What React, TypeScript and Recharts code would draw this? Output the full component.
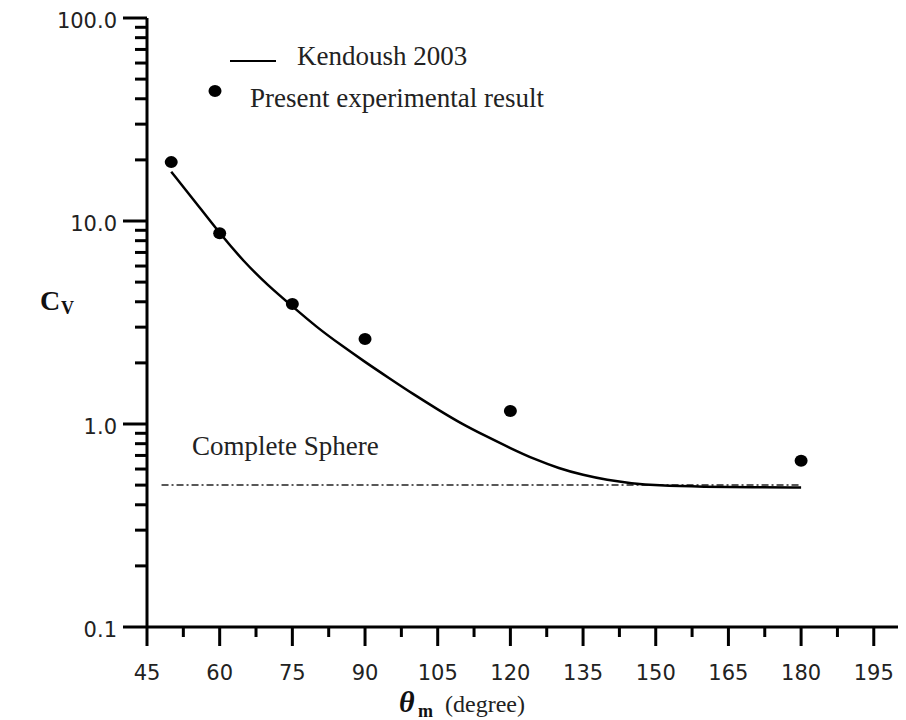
import React from 'react';
import { ComposedChart, Line, Scatter, XAxis, YAxis } from 'recharts';

const kendoushX = [50, 55, 60, 65, 70, 75, 80, 85, 90, 95, 100, 105, 110, 115, 120, 125, 130, 135, 140, 145, 150, 160, 170, 180];
const kendoushY = [17.5, 12.4, 8.7, 6.3, 4.8, 3.8, 3.0, 2.45, 2.02, 1.68, 1.4, 1.18, 1.0, 0.87, 0.76, 0.67, 0.605, 0.56, 0.53, 0.51, 0.498, 0.49, 0.488, 0.487];
const expX = [50, 60, 75, 90, 120, 180];
const expY = [19.5, 8.7, 3.9, 2.62, 1.16, 0.66];
const sphereX = [48, 180];
const sphereY = [0.5, 0.5];
const xTicks = [45, 52.5, 60, 67.5, 75, 82.5, 90, 97.5, 105, 112.5, 120, 127.5, 135, 142.5, 150, 157.5, 165, 172.5, 180, 187.5, 195];
const yTicks = [0.1, 0.2, 0.3, 0.4, 0.5, 0.6, 0.7, 0.8, 0.9, 1, 2, 3, 4, 5, 6, 7, 8, 9, 10, 20, 30, 40, 50, 60, 70, 80, 90, 100];
const yMajorLabels: Record<string, string> = { '0.1': '0.1', '1': '1.0', '10': '10.0', '100': '100.0' };

const kendoush = kendoushX.map((x, i) => ({ x, y: kendoushY[i] }));
const experiment = expX.map((x, i) => ({ x, y: expY[i] }));
const sphere = sphereX.map((x, i) => ({ x, y: sphereY[i] }));

const tickFont = '"DejaVu Sans", sans-serif';
const serif = '"Liberation Serif", "Times New Roman", serif';

const YTick = (props: any) => {
  const { x, y, payload } = props;
  const v = payload.value;
  const label = yMajorLabels[String(v)];
  const major = label !== undefined;
  return (
    <g>
      <line x1={x - (major ? 24 : 12)} x2={x} y1={y} y2={y} stroke="#000" strokeWidth={3} />
      {major && (
        <text x={x - 30} y={y + 10} textAnchor="end" fontFamily={tickFont} fontSize={21} fill="#222">
          {label}
        </text>
      )}
    </g>
  );
};

const XTick = (props: any) => {
  const { x, y, payload } = props;
  const v = payload.value;
  const major = Math.abs(((v - 45) % 15)) < 1e-6;
  return (
    <g>
      <line x1={x} x2={x} y1={y} y2={y + (major ? 19 : 10)} stroke="#000" strokeWidth={3} />
      {major && (
        <text x={x} y={y + 53} textAnchor="middle" fontFamily={tickFont} fontSize={21} fill="#222">
          {String(v)}
        </text>
      )}
    </g>
  );
};

const Dot = (props: any) => {
  const { cx, cy } = props;
  return <ellipse cx={cx} cy={cy} rx={6.5} ry={6} fill="#000" />;
};

export default function App() {
  return (
    <div style={{ position: 'absolute', left: 0, top: 0, width: 906, height: 720, background: '#fff' }}>
      <ComposedChart width={906} height={720} margin={{ top: 18, right: 8, left: 0, bottom: 0 }}>
        <XAxis
          dataKey="x"
          type="number"
          domain={[45, 200]}
          ticks={xTicks}
          interval={0}
          height={93}
          tickSize={0}
          tickMargin={0}
          tickLine={false}
          axisLine={{ stroke: '#000', strokeWidth: 3 }}
          tick={<XTick />}
          allowDataOverflow
        />
        <XAxis
          xAxisId="top"
          orientation="top"
          type="number"
          domain={[45, 200]}
          height={0}
          tick={false}
          tickLine={false}
          axisLine={{ stroke: '#000', strokeWidth: 3 }}
        />
        <YAxis
          type="number"
          scale="log"
          domain={[0.1, 100]}
          ticks={yTicks}
          interval={0}
          width={147}
          tickSize={0}
          tickMargin={0}
          tickLine={false}
          axisLine={{ stroke: '#000', strokeWidth: 3 }}
          tick={<YTick />}
          allowDataOverflow
        />
        <YAxis
          yAxisId="right"
          orientation="right"
          type="number"
          domain={[0, 1]}
          width={0}
          tick={false}
          tickLine={false}
          axisLine={{ stroke: '#000', strokeWidth: 3 }}
        />
        <Line
          data={sphere}
          dataKey="y"
          type="linear"
          stroke="#222"
          strokeWidth={1.5}
          strokeDasharray="7 3 2 3"
          dot={false}
          activeDot={false}
          isAnimationActive={false}
        />
        <Line
          data={kendoush}
          dataKey="y"
          type="basis"
          stroke="#000"
          strokeWidth={2.5}
          dot={false}
          activeDot={false}
          isAnimationActive={false}
        />
        <Scatter data={experiment} dataKey="y" fill="#000" shape={<Dot />} isAnimationActive={false} />
      </ComposedChart>
      <svg width={906} height={720} style={{ position: 'absolute', left: 0, top: 0, pointerEvents: 'none' }}>
        <line x1={230} x2={276} y1={61} y2={61} stroke="#000" strokeWidth={2} />
        <text x={297} y={65} fontFamily={serif} fontSize={27} fill="#222">Kendoush 2003</text>
        <ellipse cx={215} cy={91} rx={6.5} ry={6} fill="#000" />
        <text x={250} y={107} fontFamily={serif} fontSize={27} fill="#222">Present experimental result</text>
        <text x={192} y={455} fontFamily={serif} fontSize={27} fill="#222">Complete Sphere</text>
        <text x={40} y={310} fontFamily={serif} fontSize={28} fontWeight="bold" fill="#111">C</text>
        <text x={61} y={314} fontFamily={serif} fontSize={18} fontWeight="bold" fill="#111">V</text>
        <text x={399} y={712} fontFamily={serif} fontSize={30} fontWeight="bold" fontStyle="italic" fill="#111">θ</text>
        <text x={418} y={717} fontFamily={serif} fontSize={18} fontWeight="bold" fill="#111">m</text>
        <text x={445} y={712} fontFamily={serif} fontSize={24} fill="#222">(degree)</text>
      </svg>
    </div>
  );
}
